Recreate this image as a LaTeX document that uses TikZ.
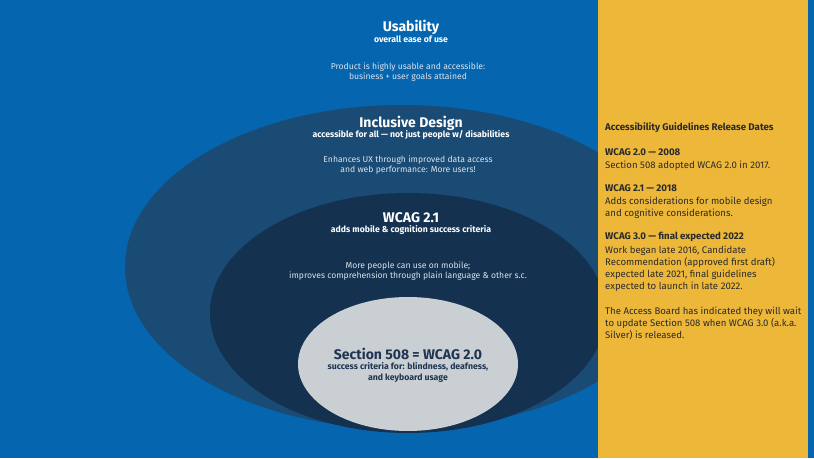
\documentclass[tikz,border=0pt]{standalone}
\usepackage{fontspec}
\setmainfont{Fira Sans}
\definecolor{bgblue}{HTML}{0565AF}
\definecolor{ringouter}{HTML}{1A4B74}
\definecolor{ringmid}{HTML}{14314F}
\definecolor{corefill}{HTML}{CACFD3}
\definecolor{panelfill}{HTML}{EDB83A}
\definecolor{softwhite}{HTML}{D9E3EE}
\definecolor{navytext}{HTML}{1E3450}
\definecolor{paneltext}{HTML}{2A2A2A}
\begin{document}
\begin{tikzpicture}[x=1pt,y=-1pt,
  headline/.style={text=white,font=\fontsize{14}{16}\selectfont\bfseries,inner sep=0pt},
  subline/.style={text=white,font=\fontsize{8.7}{10}\selectfont\bfseries,inner sep=0pt,align=center},
  bodyline/.style={text=softwhite,font=\fontsize{8.6}{10}\selectfont,inner sep=0pt,align=center},
  paneltitle/.style={text=paneltext,font=\fontsize{9.7}{12}\selectfont\bfseries,inner sep=0pt,anchor=west},
  panelbody/.style={text=paneltext,font=\fontsize{9.6}{12}\selectfont,inner sep=0pt,anchor=north west,align=left}]
  % canvas
  \fill[bgblue] (0,0) rectangle (814,458);
  \useasboundingbox (0,0) rectangle (814,458);
  % nested rings
  \fill[ringouter] (402,267) ellipse [x radius=277, y radius=162];
  \fill[ringmid] (408,313) ellipse [x radius=198, y radius=120];
  \fill[corefill] (408,364) ellipse [x radius=110, y radius=67];
  % side panel
  \fill[panelfill] (598,0) rectangle (808,458);

  % outer level
  \node[headline] (usab) at (411,27) {Usability};
  \node[subline] (usabsub) at (411,39) {overall ease of use};
  \node[bodyline] (usabbody) at (408,72.5) {Product is highly usable and accessible:\\business + user goals attained};

  % inclusive design
  \node[headline] (incl) at (411,123) {Inclusive Design};
  \node[subline] (inclsub) at (411,135) {accessible for all — not just people w/ disabilities};
  \node[bodyline] (inclbody) at (408,165.5) {Enhances UX through improved data access\\and web performance: More users!};

  % WCAG 2.1
  \node[headline] (wcag) at (411,218) {WCAG 2.1};
  \node[subline] (wcagsub) at (411,230) {adds mobile \& cognition success criteria};
  \node[bodyline] (wcagbody) at (408,271.5) {More people can use on mobile;\\improves comprehension through plain language \& other s.c.};

  % Section 508
  \node[headline,text=navytext] (sec) at (408,354) {Section 508 = WCAG 2.0};
  \node[subline,text=navytext,font=\fontsize{8.7}{11}\selectfont\bfseries] (secsub) at (408,372.5) {success criteria for: blindness, deafness,\\and keyboard usage};

  % release dates
  \node[paneltitle] (ptitle) at (605,128) {Accessibility Guidelines Release Dates};
  \node[paneltitle] (p20) at (605,152) {WCAG 2.0 — 2008};
  \node[panelbody] (p20b) at (605,160.5) {Section 508 adopted WCAG 2.0 in 2017.};
  \node[paneltitle] (p21) at (605,188) {WCAG 2.1 — 2018};
  \node[panelbody] (p21b) at (605,196.5) {Adds considerations for mobile design\\and cognitive considerations.};
  \node[paneltitle] (p30) at (605,237) {WCAG 3.0 — final expected 2022};
  \node[panelbody] (p30b) at (605,245.5) {Work began late 2016, Candidate\\Recommendation (approved first draft)\\expected late 2021, final guidelines\\expected to launch in late 2022.};
  \node[panelbody] (pboard) at (605,306.5) {The Access Board has indicated they will wait\\to update Section 508 when WCAG 3.0 (a.k.a.\\Silver) is released.};
\end{tikzpicture}
\end{document}
